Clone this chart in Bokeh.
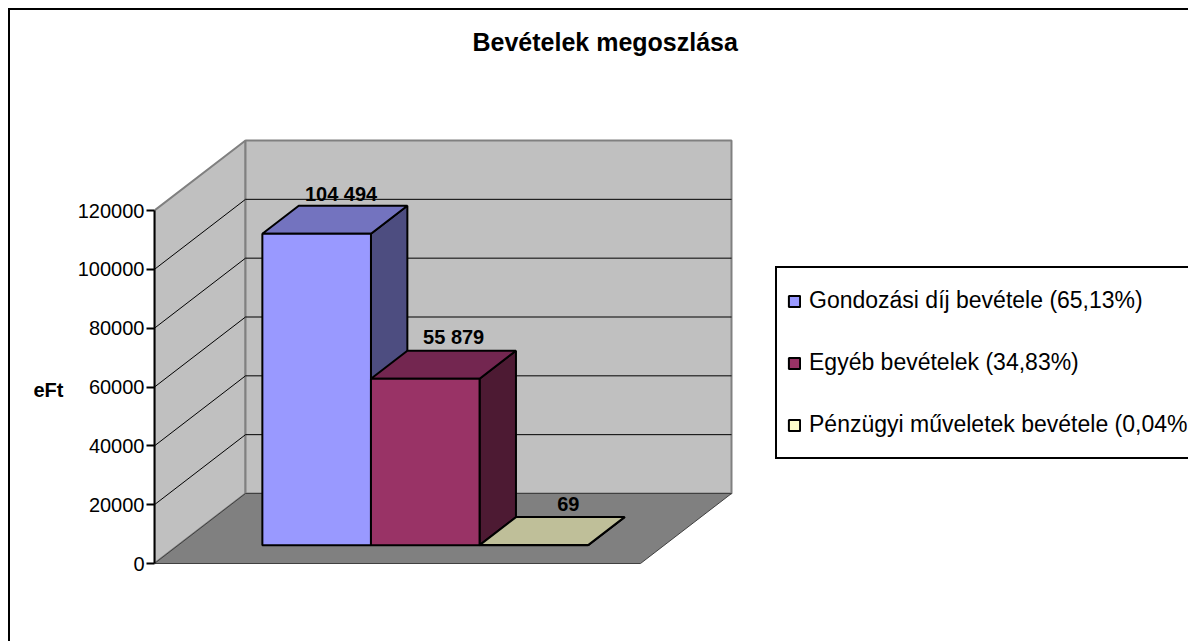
from bokeh.embed import file_html
from bokeh.resources import INLINE
from bokeh.plotting import figure
from bokeh.models import Range1d, FixedTicker, LegendItem, Legend, BasicTickFormatter, LinearAxis
from bokeh.core.properties import value

# ---- data ----
categories = ["Gondozási díj bevétele (65,13%)", "Egyéb bevételek (34,83%)", "Pénzügyi műveletek bevétele (0,04%"]
values = [104494, 55879, 69]
value_labels = ["104 494", "55 879", "69"]
y_ticks = [0, 20000, 40000, 60000, 80000, 100000, 120000]
y_caption = "eFt"
y_caption_at = 59000
front_colors = ["#9999FF", "#993366", "#FFFFCC"]
top_colors = ["#7373BF", "#732650", "#BFBF99"]
side_colors = ["#4D4D80", "#4D1A33", "#808066"]

# ---- layout (page pixels) ----
W, H = 1188, 641
FRAME_L, FRAME_T = 154, 56
Y0, Y120 = 563.0, 210.0
KPX = (Y0 - Y120) / 120000.0
DEPTH_X, DEPTH_Y = 91.0, 70.0
WALL_W = 486.0
BAR_X0 = 238.2
BAR_W = 108.6
BAR_D0, BAR_D1 = 0.26, 0.66
BAR_SCALE = 1.0135
FONT = "Liberation Sans"
LABEL_DX = [-12, -8, -2]
LABEL_DY = [12, 14, 13]

def val(py):
    return (Y0 - py) / KPX

def X(x, d=0.0):
    return x + d * DEPTH_X

def Y(v, d=0.0):
    return v + d * DEPTH_Y / KPX

chart_border = ("linear-gradient(#000,#000) 8px 8px/2px 100% no-repeat, "
                "linear-gradient(#000,#000) 8px 8px/100% 2px no-repeat")

p = figure(width=W, height=H, output_backend="svg", toolbar_location=None,
           x_range=Range1d(FRAME_L, W), y_range=Range1d(val(H), val(FRAME_T)),
           min_border_left=FRAME_L, min_border_right=0, min_border_top=FRAME_T,
           min_border_bottom=0, x_axis_location=None, background_fill_color="white",
           border_fill_alpha=0, styles={"background": chart_border})
p.grid.visible = False
p.outline_line_color = None

p.title.text = "Bevételek megoszlása"
p.title.align = "left"
p.title.offset = 318
p.title.text_font = FONT
p.title.text_font_size = "25px"
p.title.text_font_style = "bold"
p.title.text_color = "black"
p.title.standoff = 2

ax = p.yaxis[0]
ax.ticker = FixedTicker(ticks=y_ticks)
ax.formatter = BasicTickFormatter(use_scientific=False)
ax.bounds = (0, 120000)
ax.major_tick_in = 0
ax.major_tick_out = 8
ax.minor_tick_line_color = None
ax.axis_line_width = 2
ax.major_tick_line_width = 2
ax.axis_line_color = "black"
ax.major_tick_line_color = "black"
ax.major_label_text_font = FONT
ax.major_label_text_font_size = "20px"
ax.major_label_text_color = "black"
ax.major_label_standoff = 2

# axis caption, sitting beside the value axis at its own height
cap = LinearAxis(ticker=FixedTicker(ticks=[y_caption_at]), major_label_overrides={y_caption_at: y_caption},
                 axis_line_color=None, major_tick_line_color=None, minor_tick_line_color=None,
                 major_tick_in=0, major_tick_out=0, major_label_standoff=11,
                 major_label_text_font=FONT, major_label_text_font_size="20px",
                 major_label_text_font_style="bold", major_label_text_color="black")
p.add_layout(cap, "left")

top = y_ticks[-1]
wl = X(FRAME_L)
# walls
p.patch([wl, X(wl, 1), X(wl, 1), wl], [0, Y(0, 1), Y(top, 1), top],
        fill_color="#C0C0C0", line_color="#808080", line_width=2)
p.patch([X(wl, 1), X(wl + WALL_W, 1), X(wl + WALL_W, 1), X(wl, 1)], [Y(0, 1), Y(0, 1), Y(top, 1), Y(top, 1)],
        fill_color="#C0C0C0", line_color="#808080", line_width=2)
# gridlines
grid = y_ticks[1:-1]
p.multi_line([[wl, X(wl, 1), X(wl + WALL_W, 1)] for _ in grid],
             [[t, Y(t, 1), Y(t, 1)] for t in grid], line_color="#000000", line_width=1)
# floor
p.patch([wl, wl + WALL_W, X(wl + WALL_W, 1), X(wl, 1)], [0, 0, Y(0, 1), Y(0, 1)],
        fill_color="#808080", line_color="#404040", line_width=1)

# bars
items = []
for i, v in enumerate(values):
    x0 = BAR_X0 + i * BAR_W
    x1 = x0 + BAR_W
    h = v * BAR_SCALE
    p.patch([X(x1, BAR_D0), X(x1, BAR_D1), X(x1, BAR_D1), X(x1, BAR_D0)],
            [Y(0, BAR_D0), Y(0, BAR_D1), Y(h, BAR_D1), Y(h, BAR_D0)],
            fill_color=side_colors[i], line_color="black", line_width=2)
    p.patch([X(x0, BAR_D0), X(x1, BAR_D0), X(x1, BAR_D1), X(x0, BAR_D1)],
            [Y(h, BAR_D0), Y(h, BAR_D0), Y(h, BAR_D1), Y(h, BAR_D1)],
            fill_color=top_colors[i], line_color="black", line_width=2)
    r = p.quad(left=[X(x0, BAR_D0)], right=[X(x1, BAR_D0)], bottom=[Y(0, BAR_D0)], top=[Y(h, BAR_D0)],
               fill_color=front_colors[i], line_color="black", line_width=2)
    items.append(LegendItem(label=categories[i], renderers=[r]))
    p.text([X(x0 + BAR_W / 2, BAR_D1) + LABEL_DX[i]], [Y(h, BAR_D1) + LABEL_DY[i] / KPX], text=[value_labels[i]],
           text_font=value(FONT), text_font_size="20px", text_font_style="bold",
           text_align="center", text_baseline="middle", text_color="black")

# legend
legend = Legend(items=items, location=(775 - FRAME_L, H - 459), orientation="vertical", margin=0,
                padding=10, spacing=17, label_height=45, glyph_height=14, glyph_width=14,
                label_standoff=8, label_text_font=FONT, label_text_font_size="23px", label_text_color="black",
                border_line_color="black", border_line_width=2, border_line_alpha=1.0,
                background_fill_color="white", background_fill_alpha=1.0)
p.add_layout(legend, "center")

open("out.html", "w").write(file_html(p, INLINE))
